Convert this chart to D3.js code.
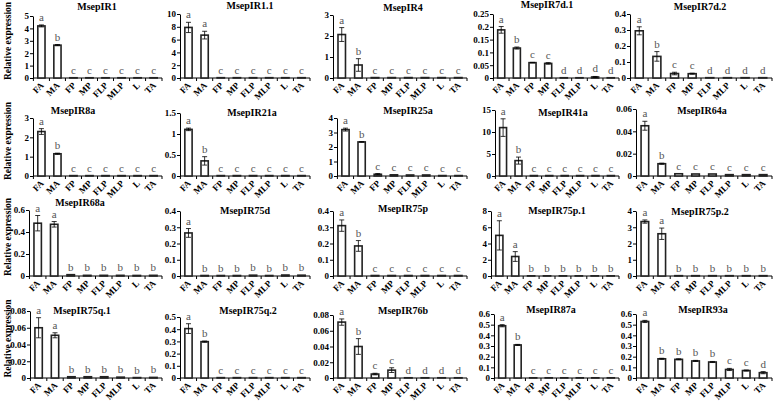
<!DOCTYPE html>
<html><head><meta charset="utf-8">
<script src="https://cdn.jsdelivr.net/npm/d3@7"></script>
<style>body{margin:0;background:#fff}</style></head><body>
<svg id="c" width="778" height="406"></svg>
<script>
// ---------- DATA ----------
const categories = ["FA","MA","FP","MP","FLP","MLP","L","TA"];
const genes = ["MsepIR1","MsepIR1.1","MsepIR4","MsepIR7d.1","MsepIR7d.2",
               "MsepIR8a","MsepIR21a","MsepIR25a","MsepIR41a","MsepIR64a",
               "MsepIR68a","MsepIR75d","MsepIR75p","MsepIR75p.1","MsepIR75p.2",
               "MsepIR75q.1","MsepIR75q.2","MsepIR76b","MsepIR87a","MsepIR93a"];
const yMax  = [5,10,3,0.25,0.4, 3,1.5,4,15,0.06, 0.6,0.4,0.4,8,4, 0.08,0.5,0.08,0.6,0.6];
const yStep = [1,2,1,0.05,0.1, 1,0.5,1,5,0.02, 0.2,0.1,0.1,2,1, 0.02,0.1,0.02,0.1,0.1];
const means = [
  [4.2,2.65,0.02,0.02,0.02,0.02,0.02,0.02],
  [7.9,6.7,0.05,0.05,0.05,0.05,0.05,0.05],
  [2.07,0.62,0.02,0.02,0.02,0.02,0.02,0.02],
  [0.188,0.117,0.06,0.057,0.001,0.001,0.004,0.001],
  [0.295,0.135,0.028,0.027,0.002,0.002,0.002,0.002],
  [2.3,1.15,0.02,0.02,0.02,0.02,0.02,0.02],
  [1.11,0.36,0.01,0.01,0.01,0.01,0.01,0.01],
  [3.2,2.35,0.12,0.08,0.07,0.07,0.03,0.03],
  [11,3.5,0.1,0.1,0.1,0.1,0.1,0.1],
  [0.045,0.011,0.002,0.0018,0.0018,0.0012,0.0012,0.0012],
  [0.48,0.47,0.012,0.006,0.006,0.006,0.005,0.006],
  [0.265,0.003,0.003,0.003,0.005,0.003,0.006,0.005],
  [0.31,0.185,0.003,0.003,0.003,0.003,0.003,0.003],
  [5.0,2.4,0.02,0.02,0.02,0.02,0.02,0.02],
  [3.35,2.6,0.02,0.02,0.02,0.02,0.02,0.02],
  [0.06,0.051,0.0015,0.0015,0.0015,0.001,0.0005,0.0007],
  [0.405,0.298,0.003,0.003,0.003,0.003,0.003,0.003],
  [0.071,0.04,0.005,0.01,0.0003,0.0003,0.0003,0.0003],
  [0.49,0.31,0.002,0.002,0.002,0.002,0.002,0.002],
  [0.53,0.18,0.175,0.16,0.15,0.08,0.07,0.05]
];
const errors = [
  [0.08,0.05,0,0,0,0,0,0],
  [0.8,0.6,0,0,0,0,0,0],
  [0.33,0.3,0,0,0,0,0,0],
  [0.013,0.004,0.001,0.003,0,0,0.002,0],
  [0.025,0.03,0.008,0.003,0,0,0,0],
  [0.15,0.03,0,0,0,0,0,0],
  [0.03,0.1,0,0,0,0,0,0],
  [0.1,0.02,0.05,0,0,0,0,0],
  [2,0.8,0,0,0,0,0,0],
  [0.004,0.0005,0,0,0,0,0,0],
  [0.07,0.025,0,0,0,0,0,0],
  [0.027,0,0,0,0,0,0,0],
  [0.035,0.033,0,0,0,0,0,0],
  [1.8,0.6,0,0,0,0,0,0],
  [0.1,0.35,0,0,0,0,0,0],
  [0.012,0.003,0,0,0,0,0,0],
  [0.04,0.005,0,0,0,0,0,0],
  [0.004,0.01,0.001,0.003,0,0,0,0],
  [0.01,0.005,0,0,0,0,0,0],
  [0.01,0.005,0.005,0.005,0.005,0.01,0.005,0.01]
];
const letters = [
  "abcccccc","aacccccc","abcccccc","abccdddd","abccdddd",
  "abcccccc","abcccccc","abcccccc","abcccccc","abcccccc",
  "aabbbbbb","abbbbbbb","abcccccc","aabbbbbb","aabbbbbb",
  "aabbbbbb","abcccccc","abccdddd","abcccccc","abbbbccd"
];
const yLabel = "Relative expression";

// ---------- LAYOUT ----------
const axisX = [[33,180,333,493,630],[33,180,337,495,636],[29,180,333,491,636],[30,180,333,494,636]];
const rightX = [162,310,467,619,772];
const rowBottom = [78,176,276,378];
const panelTop = [[16,14,15,14,14],[118,113,118,110,109],[210,211,211,211,211],[311,317,315,314,314]];
const titleX = [[97,250,403,547,700],[73,252,408,563,702],[80,245,403,557,700],[82,248,403,551,703]];
const titleY = [[10,9,11,8,10],[114,116,114,116,114],[206,214,212,214,215],[314,314,314,313,313]];

const svg = d3.select("#c");
const serif = "'Liberation Serif','Times New Roman',serif";
const fmt = v => String(+v.toFixed(4));

genes.forEach((g, i) => {
  const r = Math.floor(i / 5), c = i % 5;
  const left = axisX[r][c], right = rightX[c], bottom = rowBottom[r], top = panelTop[r][c];
  const x = d3.scaleBand().domain(categories).range([left, right]).paddingInner(0.55).paddingOuter(0.3);
  const y = d3.scaleLinear().domain([0, yMax[i]]).range([bottom, top]);
  const gp = svg.append("g");

  // y axis
  const ticks = d3.range(0, yMax[i] + yStep[i] / 2, yStep[i]);
  const ya = gp.append("g").attr("transform", `translate(${left},0)`)
    .call(d3.axisLeft(y).tickValues(ticks).tickFormat(fmt).tickSize(3).tickSizeOuter(0));
  ya.select(".domain").attr("stroke", "#000").attr("stroke-width", 1);
  ya.selectAll(".tick line").attr("stroke", "#000");
  ya.selectAll(".tick text").attr("font-family", serif).attr("font-weight", "bold")
    .attr("font-size", 9).attr("fill", "#000").attr("x", -4);

  // x axis line and ticks at band boundaries
  gp.append("line").attr("x1", left).attr("x2", right).attr("y1", bottom).attr("y2", bottom)
    .attr("stroke", "#000").attr("stroke-width", 1);
  const step = x.step();
  const bounds = categories.map((d, k) => x(d) - (step - x.bandwidth()) / 2).concat([right]);
  gp.selectAll(".xt").data(bounds).join("line")
    .attr("x1", d => d).attr("x2", d => d).attr("y1", bottom).attr("y2", bottom + 3)
    .attr("stroke", "#000");

  // x labels
  gp.selectAll(".xl").data(categories).join("text")
    .attr("transform", d => `translate(${x(d) + x.bandwidth() / 2 + 3},${bottom + 8}) rotate(-45)`)
    .attr("text-anchor", "end")
    .attr("font-family", serif).attr("font-weight", "bold").attr("font-size", 9)
    .text(d => d);

  const data = categories.map((d, k) => ({ cat: d, m: means[i][k], e: errors[i][k], l: letters[i][k] }));

  // bars
  gp.selectAll(".bar").data(data).join("rect")
    .attr("x", d => x(d.cat)).attr("width", x.bandwidth())
    .attr("y", d => y(d.m)).attr("height", d => bottom - y(d.m))
    .attr("fill", "#fff").attr("stroke", "#222").attr("stroke-width", 1.6);

  // error bars
  const eb = gp.selectAll(".eb").data(data.filter(d => d.e > 0)).join("g");
  eb.append("line")
    .attr("x1", d => x(d.cat) + x.bandwidth() / 2).attr("x2", d => x(d.cat) + x.bandwidth() / 2)
    .attr("y1", d => y(d.m - d.e)).attr("y2", d => y(d.m + d.e)).attr("stroke", "#000").attr("stroke-width", 0.8);
  ["m+", "m-"].forEach(s => {
    eb.append("line")
      .attr("x1", d => x(d.cat) + x.bandwidth() / 2 - 2.5).attr("x2", d => x(d.cat) + x.bandwidth() / 2 + 2.5)
      .attr("y1", d => y(s === "m+" ? d.m + d.e : d.m - d.e)).attr("y2", d => y(s === "m+" ? d.m + d.e : d.m - d.e))
      .attr("stroke", "#000").attr("stroke-width", 0.8);
  });

  // letters
  gp.selectAll(".lt").data(data).join("text")
    .attr("x", d => x(d.cat) + x.bandwidth() / 2).attr("y", d => y(d.m + d.e) - 4)
    .attr("text-anchor", "middle").attr("font-family", serif).attr("font-size", 11).attr("fill", "#555")
    .text(d => d.l);

  // title
  gp.append("text").attr("x", titleX[r][c]).attr("y", titleY[r][c]).attr("text-anchor", "middle")
    .attr("font-family", serif).attr("font-weight", "bold").attr("font-size", 10).text(g);

  // y label for first column
  if (c === 0) {
    gp.append("text").attr("transform", `translate(11,${(top + bottom) / 2 - 6}) rotate(-90)`)
      .attr("text-anchor", "middle").attr("font-family", serif).attr("font-weight", "bold")
      .attr("font-size", 9.5).text(yLabel);
  }
});
</script></body></html>
